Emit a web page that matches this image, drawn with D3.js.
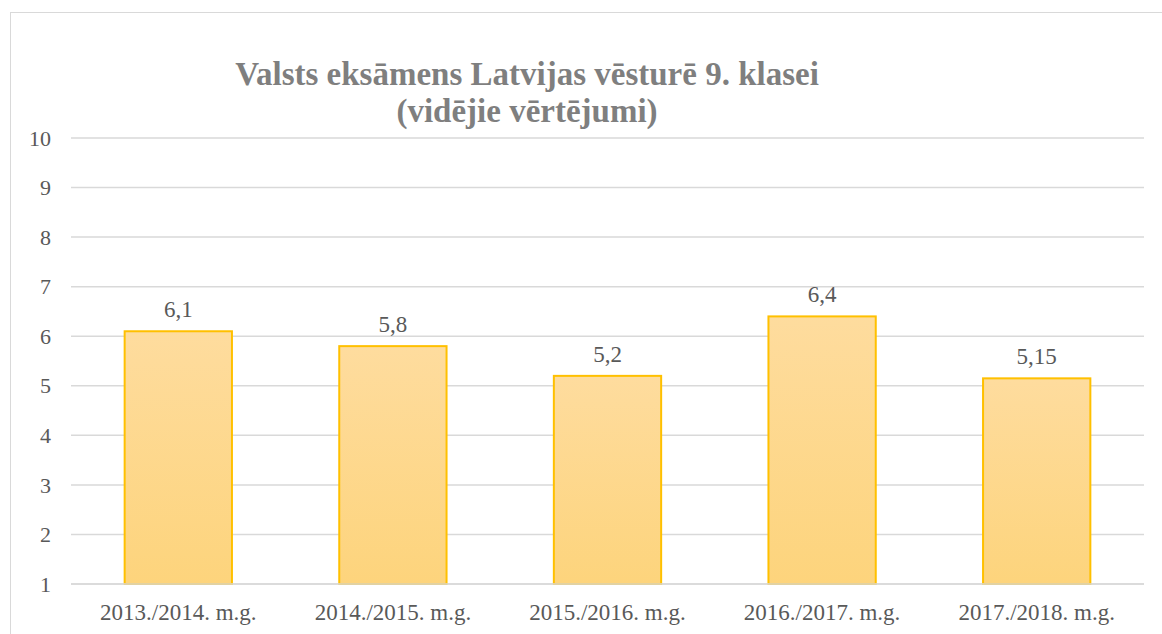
<!DOCTYPE html>
<html>
<head>
<meta charset="utf-8">
<script src="https://cdn.jsdelivr.net/npm/d3@7"></script>
<style>
	body { margin: 0; background: white; }
	text { font-family: "Liberation Serif", "Times New Roman", serif; }
</style>
</head>
<body>
<script>
	// data
	var years = ["2013./2014. m.g.", "2014./2015. m.g.", "2015./2016. m.g.", "2016./2017. m.g.", "2017./2018. m.g."];
	var scores = [6.1, 5.8, 5.2, 6.4, 5.15];
	var yTicks = [1, 2, 3, 4, 5, 6, 7, 8, 9, 10];
	var titleLines = ["Valsts eksāmens Latvijas vēsturē 9. klasei", "(vidējie vērtējumi)"];

	var width = 1162, height = 634;
	var plotLeft = 71, plotRight = 1144, plotTop = 138, plotBottom = 584;
	var labelSize = "23px";

	var svg = d3.select("body").append("svg")
		.attr("width", width)
		.attr("height", height);

	// chart area border
	svg.append("rect")
		.attr("x", 10.5).attr("y", 12.5)
		.attr("width", 1170).attr("height", 640)
		.attr("fill", "white")
		.attr("stroke", "#d9d9d9")
		.attr("stroke-width", 1);

	var grad = svg.append("defs").append("linearGradient")
		.attr("id", "barFill")
		.attr("x1", 0).attr("y1", 0).attr("x2", 0).attr("y2", 1);
	grad.append("stop").attr("offset", "0%").attr("stop-color", "#fedc9e");
	grad.append("stop").attr("offset", "100%").attr("stop-color", "#fdd47c");

	var x = d3.scaleBand().domain(years).range([plotLeft, plotRight]).paddingInner(0.5).paddingOuter(0.25);
	var y = d3.scaleLinear().domain([1, 10]).range([plotBottom, plotTop]);

	// gridlines
	svg.append("g").selectAll("line")
		.data(yTicks)
		.join("line")
		.attr("x1", plotLeft).attr("x2", plotRight)
		.attr("y1", d => y(d)).attr("y2", d => y(d))
		.attr("stroke", "#d9d9d9")
		.attr("stroke-width", 1.5);

	// y labels
	svg.append("g").selectAll("text")
		.data(yTicks)
		.join("text")
		.attr("x", 51)
		.attr("y", d => y(d))
		.attr("dy", "0.35em")
		.attr("text-anchor", "end")
		.attr("fill", "#595959")
		.style("font-size", "22px")
		.text(d => d);

	// bars
	svg.append("g").selectAll("rect")
		.data(scores)
		.join("rect")
		.attr("x", (d, i) => x(years[i]))
		.attr("y", d => y(d))
		.attr("width", x.bandwidth())
		.attr("height", d => y(1) - y(d))
		.attr("fill", "url(#barFill)")
		.attr("stroke", "#ffc000")
		.attr("stroke-width", 2);

	// bottom axis line drawn over bars
	svg.append("line")
		.attr("x1", plotLeft).attr("x2", plotRight)
		.attr("y1", y(1)).attr("y2", y(1))
		.attr("stroke", "#d9d9d9")
		.attr("stroke-width", 1.5);

	// value labels
	svg.append("g").selectAll("text")
		.data(scores)
		.join("text")
		.attr("x", (d, i) => x(years[i]) + x.bandwidth() / 2)
		.attr("y", d => y(d) - 14)
		.attr("text-anchor", "middle")
		.attr("fill", "#595959")
		.style("font-size", labelSize)
		.text(d => String(d).replace(".", ","));

	// category labels
	svg.append("g").selectAll("text")
		.data(years)
		.join("text")
		.attr("x", d => x(d) + x.bandwidth() / 2)
		.attr("y", 620)
		.attr("text-anchor", "middle")
		.attr("fill", "#595959")
		.style("font-size", labelSize)
		.text(d => d);

	// title
	svg.append("g").selectAll("text")
		.data(titleLines)
		.join("text")
		.attr("x", 527)
		.attr("y", (d, i) => 85 + i * 37)
		.attr("text-anchor", "middle")
		.attr("fill", "#7f7f7f")
		.style("font-size", "33px")
		.style("font-weight", "bold")
		.text(d => d);
</script>
</body>
</html>
